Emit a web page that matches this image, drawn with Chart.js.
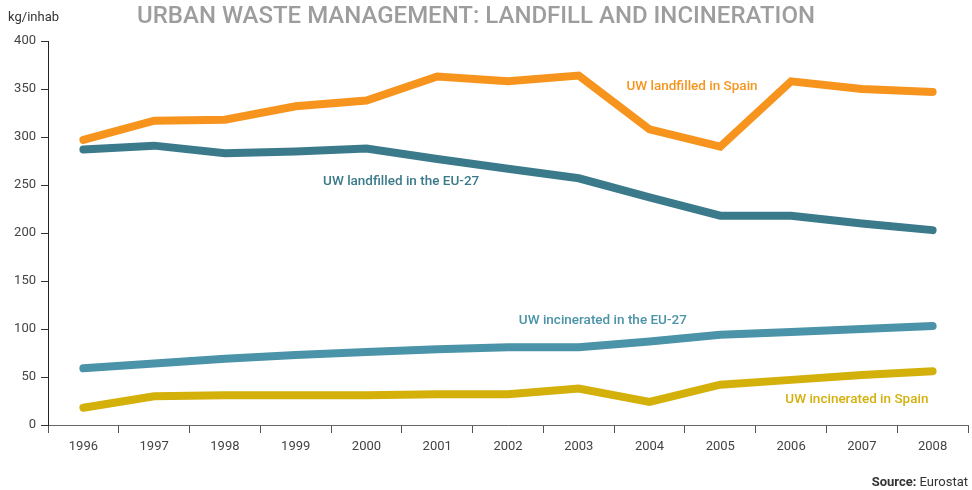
<!DOCTYPE html>
<html lang="en">
    <head>
        <meta charset="UTF-8">
        <title>Urban Waste Management: Landfill and Incineration</title>
        <script src="https://cdn.jsdelivr.net/npm/chart.js"></script>
        <style>
            html, body { margin: 0; padding: 0; background: #fff; }
            #wrap { position: relative; width: 972px; height: 490px; }
        </style>
    </head>
    <body>
        <div id="wrap"><canvas id="chart"></canvas></div>
        <script>
        // Data
        const years = ['1996', '1997', '1998', '1999', '2000', '2001', '2002', '2003', '2004', '2005', '2006', '2007', '2008'];
        const landfillSpain = [297, 317, 318, 332, 338, 363, 358, 364, 308, 290, 358, 350, 347];
        const landfillEU = [287, 291, 283, 285, 288, 277, 267, 257, 237, 218, 218, 210, 203];
        const incinEU = [59, 64, 69, 73, 76, 79, 81, 81, 87, 94, 97, 100, 103];
        const incinSpain = [18, 30, 31, 31, 31, 32, 32, 38, 24, 42, 47, 52, 56];
        const yTicks = [0, 50, 100, 150, 200, 250, 300, 350, 400];

        const orange = '#f7941d';
        const darkTeal = '#3b7a8b';
        const lightTeal = '#4a93a8';
        const gold = '#d4b00a';

        // labels placed in data space: [text, color, x index, value]
        const seriesLabels = [
            ['UW landfilled in Spain', orange, 8.6, 352],
            ['UW landfilled in the EU-27', darkTeal, 4.49, 253],
            ['UW incinerated in the EU-27', lightTeal, 7.34, 109],
            ['UW incinerated in Spain', gold, 10.93, 26]
        ];

        function line(label, data, color) {
            return {
                label: label,
                data: data,
                borderColor: color,
                backgroundColor: color,
                borderWidth: 8,
                borderCapStyle: 'round',
                pointRadius: 0,
                tension: 0,
                fill: false
            };
        }

        const textPlugin = {
            id: 'texts',
            afterDraw(chart) {
                const ctx = chart.ctx;
                const xs = chart.scales.x, ys = chart.scales.y;
                ctx.save();
                // title
                ctx.fillStyle = '#9d9d9d';
                ctx.font = '500 24px Roboto';
                ctx.textAlign = 'center';
                ctx.textBaseline = 'middle';
                ctx.fillText('URBAN WASTE MANAGEMENT: LANDFILL AND INCINERATION', 476, 17);
                // unit
                ctx.fillStyle = '#333';
                ctx.font = '13px Roboto';
                ctx.textAlign = 'left';
                ctx.fillText('kg/inhab', 8, 18);
                // source
                ctx.textAlign = 'right';
                ctx.font = '13px Roboto';
                ctx.fillText('Eurostat', 968, 483);
                const w = ctx.measureText(' Eurostat').width;
                ctx.font = 'bold 13px Roboto';
                ctx.fillText('Source:', 968 - w, 483);
                // series labels
                ctx.textAlign = 'center';
                ctx.font = '500 13.5px Roboto';
                seriesLabels.forEach(([t, c, xi, v]) => {
                    const px = xs.left + (xi + 0.5) * (xs.width / years.length);
                    ctx.fillStyle = c;
                    ctx.fillText(t, px, ys.getPixelForValue(v));
                });
                ctx.restore();
            }
        };

        new Chart(document.getElementById('chart'), {
            type: 'line',
            data: {
                labels: years,
                datasets: [
                    line('UW landfilled in Spain', landfillSpain, orange),
                    line('UW landfilled in the EU-27', landfillEU, darkTeal),
                    line('UW incinerated in the EU-27', incinEU, lightTeal),
                    line('UW incinerated in Spain', incinSpain, gold)
                ]
            },
            options: {
                responsive: true,
                maintainAspectRatio: false,
                animation: false,
                layout: { padding: { top: 41, right: 4, bottom: 0, left: 0 } },
                plugins: { legend: { display: false }, tooltip: { enabled: false } },
                scales: {
                    x: {
                        offset: true,
                        afterFit(s) { s.height = 65; },
                        border: { color: '#666', width: 1 },
                        grid: { offset: true, drawOnChartArea: false, tickLength: 8, color: '#555' },
                        ticks: { color: '#444', font: { family: 'Roboto', size: 13 }, padding: 6, maxRotation: 0 }
                    },
                    y: {
                        min: 0,
                        max: 400,
                        afterFit(s) { s.width = 48; },
                        afterBuildTicks(s) { s.ticks = yTicks.map(v => ({ value: v })); },
                        border: { color: '#222', width: 1 },
                        grid: { drawOnChartArea: false, tickLength: 7, color: '#333' },
                        ticks: { color: '#444', font: { family: 'Roboto', size: 13 }, padding: 5 }
                    }
                }
            },
            plugins: [textPlugin]
        });
        </script>
    </body>
</html>
